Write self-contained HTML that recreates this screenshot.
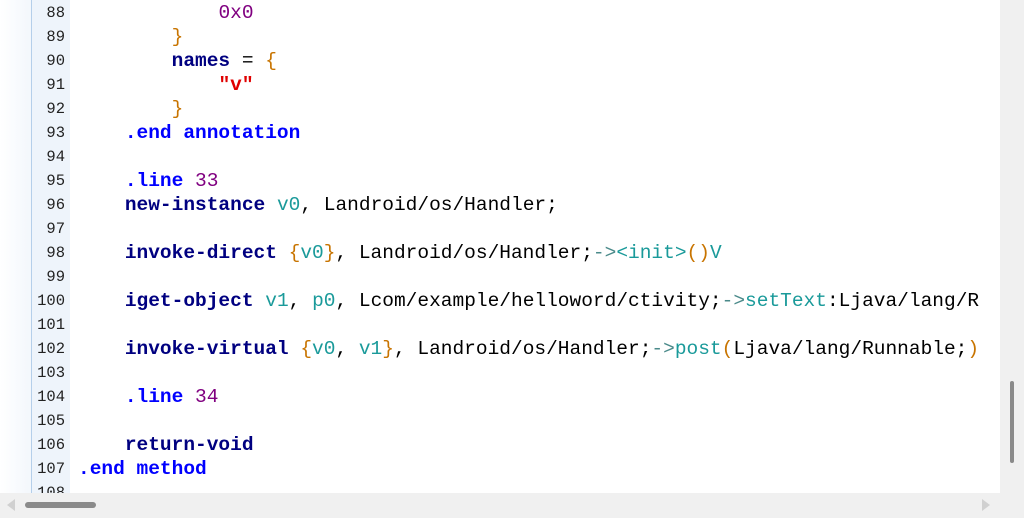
<!DOCTYPE html>
<html><head><meta charset="utf-8"><style>
*{margin:0;padding:0;box-sizing:border-box}
body{width:1024px;height:518px;overflow:hidden;background:#fff;position:relative;font-family:"Liberation Mono","Courier New",monospace}
#lg{position:absolute;left:0;top:0;width:31px;height:493px;background:linear-gradient(to right,#fff,#f3f7fc)}
#ln{position:absolute;left:31px;top:0;width:39px;height:493px;background:#eef4fb;border-left:1px solid #b5cfea;overflow:hidden;padding-top:1px}
#ln div{height:24px;line-height:24px;text-align:right;padding-right:5px;font-size:15.5px;color:#222}
#code{position:absolute;left:78px;top:1px;width:922px;height:492px;overflow:hidden}
#code div{height:24px;line-height:24px;font-size:19.5px;white-space:pre;color:#000}
.k{color:#000080;font-weight:bold}.d{color:#0000ff;font-weight:bold}.n{color:#800080}.r{color:#1a9a9a}.b{color:#c87400}.s{color:#e00000;font-weight:bold}.a{color:#4a8a8a}
#rb{position:absolute;left:1000px;top:0;width:24px;height:518px;background:#f0f0f0}
#bb{position:absolute;left:0;top:493px;width:1024px;height:25px;background:#f0f0f0}
</style></head><body>
<div id="lg"></div>
<div id="ln">
<div>88</div><div>89</div><div>90</div><div>91</div><div>92</div><div>93</div><div>94</div><div>95</div><div>96</div><div>97</div><div>98</div><div>99</div><div>100</div><div>101</div><div>102</div><div>103</div><div>104</div><div>105</div><div>106</div><div>107</div><div>108</div>
</div>
<div id="code">
<div>            <span class="n">0x0</span></div>
<div>        <span class="b">}</span></div>
<div>        <span class="k">names</span> = <span class="b">{</span></div>
<div>            <span class="s">"v"</span></div>
<div>        <span class="b">}</span></div>
<div>    <span class="d">.end annotation</span></div>
<div> </div>
<div>    <span class="d">.line</span> <span class="n">33</span></div>
<div>    <span class="k">new-instance</span> <span class="r">v0</span>, Landroid/os/Handler;</div>
<div> </div>
<div>    <span class="k">invoke-direct</span> <span class="b">{</span><span class="r">v0</span><span class="b">}</span>, Landroid/os/Handler;<span class="a">-&gt;</span><span class="r">&lt;init&gt;</span><span class="b">()</span><span class="r">V</span></div>
<div> </div>
<div>    <span class="k">iget-object</span> <span class="r">v1</span>, <span class="r">p0</span>, Lcom/example/helloword/ctivity;<span class="a">-&gt;</span><span class="r">setText</span>:Ljava/lang/R</div>
<div> </div>
<div>    <span class="k">invoke-virtual</span> <span class="b">{</span><span class="r">v0</span>, <span class="r">v1</span><span class="b">}</span>, Landroid/os/Handler;<span class="a">-&gt;</span><span class="r">post</span><span class="b">(</span>Ljava/lang/Runnable;<span class="b">)</span></div>
<div> </div>
<div>    <span class="d">.line</span> <span class="n">34</span></div>
<div> </div>
<div>    <span class="k">return-void</span></div>
<div><span class="d">.end method</span></div>
</div>
<div id="rb"><div style="position:absolute;left:10px;top:381px;width:4px;height:82px;background:#8a8a8a;border-radius:2px"></div></div>
<div id="bb">
<div style="position:absolute;left:7px;top:6px;width:0;height:0;border-top:6px solid transparent;border-bottom:6px solid transparent;border-right:8px solid #d0d0d0"></div>
<div style="position:absolute;left:25px;top:9px;width:71px;height:6px;background:#8a8a8a;border-radius:3px"></div>
<div style="position:absolute;left:982px;top:6px;width:0;height:0;border-top:6px solid transparent;border-bottom:6px solid transparent;border-left:8px solid #d0d0d0"></div>
</div>
</body></html>
